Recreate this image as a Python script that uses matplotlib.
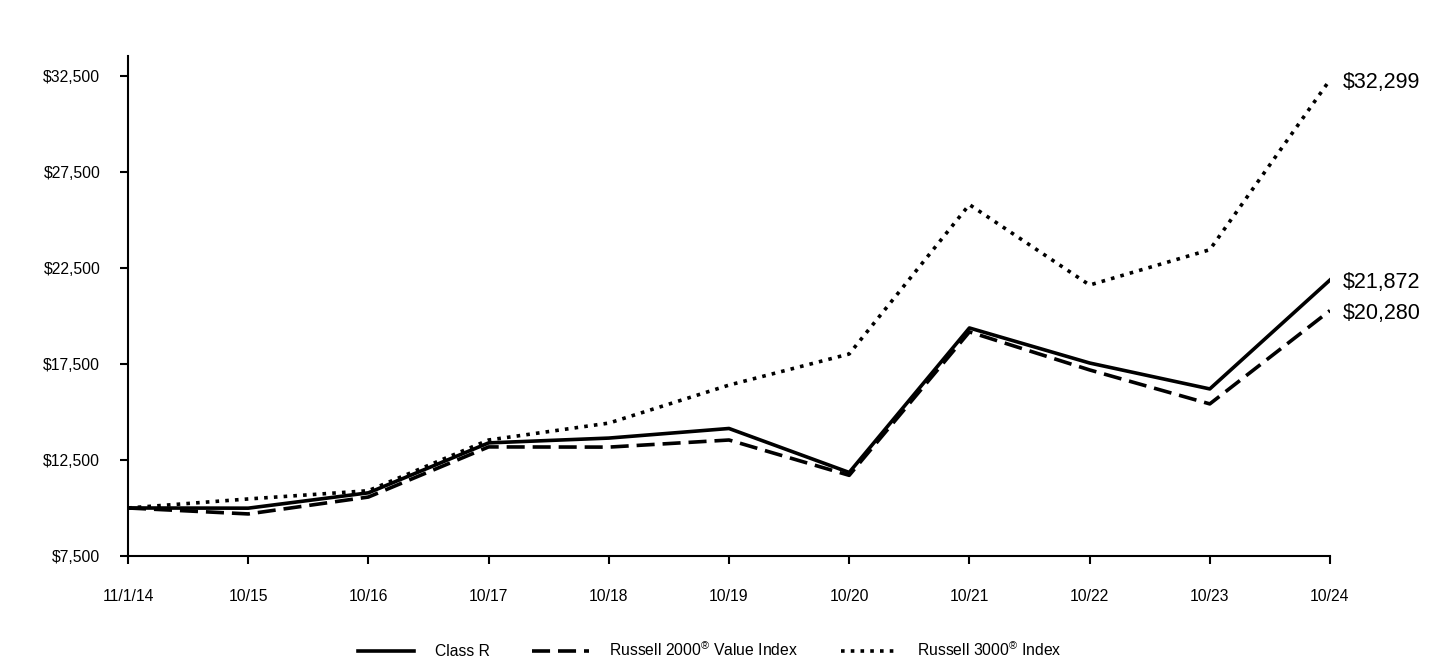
import matplotlib
matplotlib.use("Agg")
import matplotlib.pyplot as plt

plt.rcParams["font.family"] = ["Liberation Sans", "DejaVu Sans"]
plt.rcParams["mathtext.fontset"] = "custom"
plt.rcParams["mathtext.rm"] = "Liberation Sans"
plt.rcParams["mathtext.default"] = "regular"

dates = ["11/1/14", "10/15", "10/16", "10/17", "10/18", "10/19",
         "10/20", "10/21", "10/22", "10/23", "10/24"]
class_r = [10000, 9990, 10790, 13390, 13640, 14140, 11850, 19375, 17550, 16200, 21872]
r2000v = [10000, 9690, 10570, 13180, 13170, 13540, 11700, 19170, 17190, 15420, 20280]
r3000 = [10000, 10470, 10900, 13540, 14420, 16400, 18020, 25800, 21610, 23450, 32299]
end_labels = ["$21,872", "$20,280", "$32,299"]
series_names = ["Class R", "Russell 2000$^{\u00ae}$ Value Index", "Russell 3000$^{\u00ae}$ Index"]

fig = plt.figure(figsize=(14.4, 6.6), dpi=100)
ax = fig.add_axes([0.0889, 0.1576, 0.8347, 0.7576])

x = list(range(len(dates)))
l1, = ax.plot(x, class_r, color="black", lw=2.6, ls="-")
l2, = ax.plot(x, r2000v, color="black", lw=2.6, ls=(0, (5, 2.2)))
l3, = ax.plot(x, r3000, color="black", lw=2.6, ls=(0, (1, 1.7)))

for series, lab in [(class_r, end_labels[0]), (r2000v, end_labels[1]), (r3000, end_labels[2])]:
    ax.annotate(lab, (x[-1], series[-1]), xytext=(9, -1.8), textcoords="offset points",
                va="center", ha="left", fontsize=15.5)

ax.set_xlim(0, len(dates) - 1)
ax.set_ylim(7500, 33540)
ax.set_xticks(x)
ax.set_xticklabels(dates)
yt = [7500, 12500, 17500, 22500, 27500, 32500]
ax.set_yticks(yt)
ax.set_yticklabels([f"${v:,}" for v in yt])
ax.tick_params(axis="both", direction="out", length=6, width=1.5, labelsize=11.3)
ax.tick_params(axis="y", pad=14)
ax.tick_params(axis="x", pad=18)
for s in ["top", "right"]:
    ax.spines[s].set_visible(False)
for s in ["left", "bottom"]:
    ax.spines[s].set_linewidth(1.5)

fig.legend([l1, l2, l3], series_names, loc="lower center", bbox_to_anchor=(0.493, -0.02), ncol=3,
           frameon=False, fontsize=11.3, handlelength=3.6, columnspacing=2.7, handletextpad=1.3)

fig.savefig("out.png", dpi=100)
